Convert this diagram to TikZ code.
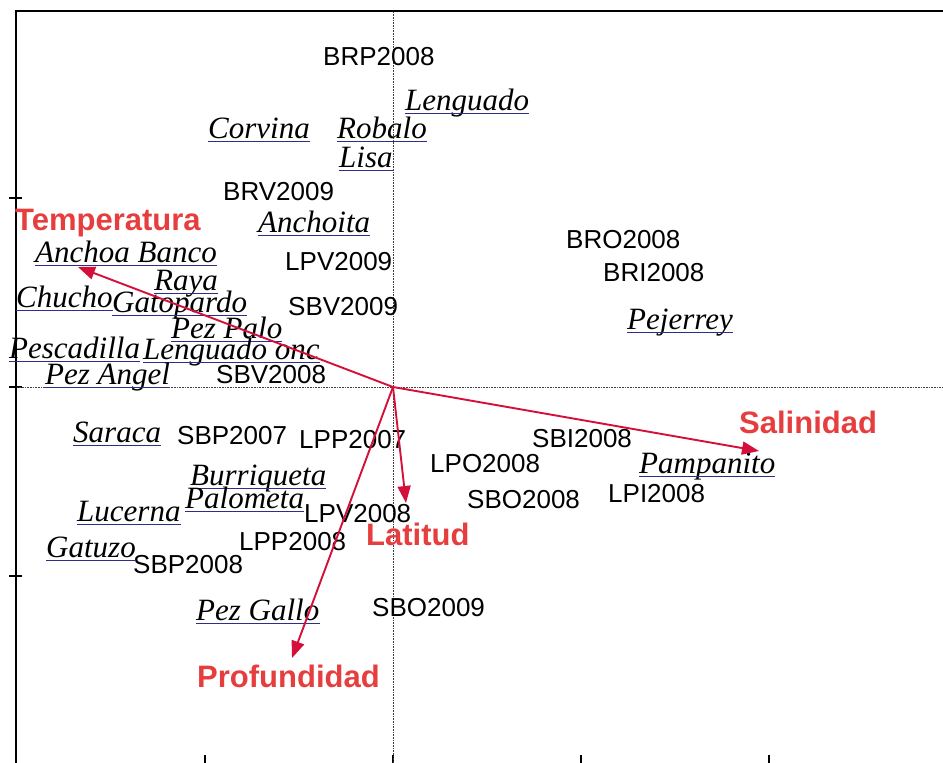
\documentclass[tikz,border=0pt]{standalone}
\usepackage{fontspec}
\setmainfont{Liberation Serif}
\setsansfont{Liberation Sans}
\usetikzlibrary{arrows.meta}
\definecolor{varred}{RGB}{230,62,62}
\definecolor{arrred}{RGB}{212,16,58}
\definecolor{ulblue}{RGB}{45,45,140}
\tikzset{
  site/.style={anchor=base west, inner sep=0pt, font=\sffamily\fontsize{26}{28}\selectfont},
  spec/.style={anchor=base west, inner sep=0pt, font=\itshape\fontsize{31}{33}\selectfont},
  envvar/.style={anchor=base west, inner sep=0pt, text=varred, font=\sffamily\bfseries\fontsize{31}{33}\selectfont},
  ul/.style={draw=ulblue, line width=1pt},
  vec/.style={draw=arrred, line width=1.9pt, -{Triangle[length=17pt,width=13pt]}},
  zeroaxis/.style={draw=black!75, line width=0.6pt, densely dotted},
  frameline/.style={draw=black, line width=1.8pt},
  tickmark/.style={draw=black, line width=1.3pt}
}
\newcommand\spnode[4]{\node[spec] (#1) at (#2,#3) {#4};
  \draw[ul] ([yshift=-3.5pt]#1.base west) -- ([yshift=-3.5pt]#1.base east);}
\begin{document}
\begin{tikzpicture}[x=1pt,y=-1pt]
\useasboundingbox (0,0) rectangle (943,763);
% frame and ticks
\coordinate (fTL) at (16,11);
\coordinate (fTR) at (943,11);
\coordinate (fBL) at (16,763);
\draw[frameline] (fTR) -- (fTL) -- (fBL);
\foreach \ty [count=\i] in {198,387,576}{
  \coordinate (lt\i a) at (9,\ty); \coordinate (lt\i b) at (22,\ty);
  \draw[tickmark] (lt\i a) -- (lt\i b);}
\foreach \tx [count=\i] in {205,393,581,769}{
  \coordinate (bt\i a) at (\tx,755); \coordinate (bt\i b) at (\tx,763);
  \draw[tickmark] (bt\i a) -- (bt\i b);}
% zero axes
\coordinate (O) at (393,387);
\coordinate (vTop) at (393,12);
\coordinate (vBot) at (393,763);
\coordinate (hL) at (17,387);
\coordinate (hR) at (943,387);
\draw[zeroaxis] (vTop) -- (vBot);
\draw[zeroaxis] (hL) -- (hR);
% sites
\node[site] (brp2008) at (323,65) {BRP2008};
\node[site] (brv2009) at (223,200) {BRV2009};
\node[site] (lpv2009) at (285,270) {LPV2009};
\node[site] (sbv2009) at (288,315) {SBV2009};
\node[site] (sbv2008) at (216,383) {SBV2008};
\node[site] (bro2008) at (566,248) {BRO2008};
\node[site] (bri2008) at (603,281) {BRI2008};
\node[site] (sbp2007) at (177,444) {SBP2007};
\node[site] (lpp2007) at (299,448) {LPP2007};
\node[site] (sbi2008) at (532,447) {SBI2008};
\node[site] (lpo2008) at (430,472) {LPO2008};
\node[site] (sbo2008) at (467,508) {SBO2008};
\node[site] (lpi2008) at (608,502) {LPI2008};
\node[site] (lpv2008) at (304,522) {LPV2008};
\node[site] (lpp2008) at (239,550) {LPP2008};
\node[site] (sbp2008) at (133,573) {SBP2008};
\node[site] (sbo2009) at (372,616) {SBO2009};
% species
\spnode{lenguado}{405}{110}{Lenguado}
\spnode{corvina}{208}{138}{Corvina}
\spnode{robalo}{337}{138}{Robalo}
\spnode{lisa}{339}{167}{Lisa}
\spnode{anchoita}{258}{232}{Anchoita}
\spnode{anchoabanco}{35}{262}{Anchoa Banco}
\spnode{raya}{154}{290}{Raya}
\spnode{chucho}{16}{307}{Chucho}
\spnode{gatopardo}{112}{312}{Gatopardo}
\spnode{pezpalo}{171}{338}{Pez Palo}
\spnode{pescadilla}{9}{358}{Pescadilla}
\spnode{lenguadoonc}{143}{359}{Lenguado onc}
\spnode{pezangel}{45}{384}{Pez Angel}
\spnode{pejerrey}{627}{329}{Pejerrey}
\spnode{saraca}{73}{442}{Saraca}
\spnode{pampanito}{639}{473}{Pampanito}
\spnode{burriqueta}{190}{485}{Burriqueta}
\spnode{palometa}{185}{508}{Palometa}
\spnode{lucerna}{77}{521}{Lucerna}
\spnode{gatuzo}{46}{557}{Gatuzo}
\spnode{pezgallo}{196}{620}{Pez Gallo}
% environmental variables
\node[envvar] (temp) at (15,230) {Temperatura};
\node[envvar] (sal) at (739,433) {Salinidad};
\node[envvar] (lat) at (366,545) {Latitud};
\node[envvar] (prof) at (197,687) {Profundidad};
% vectors
\coordinate (tTemp) at (78,267);
\coordinate (tSal) at (759,451);
\coordinate (tLat) at (406,503);
\coordinate (tProf) at (292,658);
\draw[vec] (O) -- (tTemp);
\draw[vec] (O) -- (tSal);
\draw[vec] (O) -- (tLat);
\draw[vec] (O) -- (tProf);
\end{tikzpicture}
\end{document}
